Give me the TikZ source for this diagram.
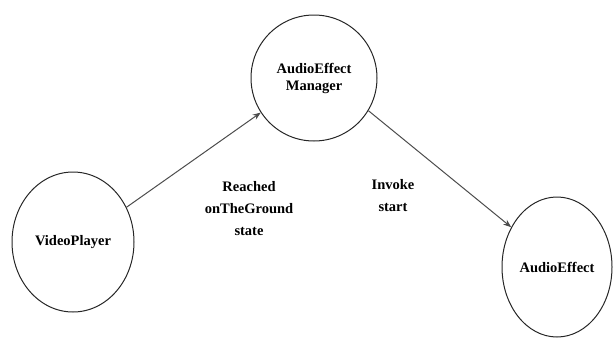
\documentclass[tikz,border=0pt]{standalone}
\usepackage{fontspec}
\setmainfont{Liberation Serif}
\usetikzlibrary{shapes.geometric,arrows.meta}
\begin{document}
\begin{tikzpicture}[x=1pt,y=-1pt,
  state/.style={draw=black!85,line width=1pt,ellipse,inner sep=0pt,font=\bfseries\fontsize{14.5}{17}\selectfont,align=center},
  conn/.style={draw=black!70,line width=1pt,-{Stealth[length=8pt,width=6pt]}},
  lbl/.style={font=\bfseries\fontsize{14.5}{22}\selectfont,align=center}]
\useasboundingbox (0,0) rectangle (613,338);
\node[state,minimum width=126pt,minimum height=126pt] (aem) at (314,78) {AudioEffect\\Manager};
\node[state,minimum width=122pt,minimum height=140pt] (vp) at (73,242) {VideoPlayer};
\node[state,minimum width=110pt,minimum height=140pt] (ae) at (557,267) {AudioEffect};
\draw[conn] (vp.33) -- (aem.213);
\draw[conn] (aem.-31) -- (ae.139);
\node[lbl] (l1) at (249,209) {Reached\\onTheGround\\state};
\node[lbl] (l2) at (393,196) {Invoke\\start};
\end{tikzpicture}
\end{document}
